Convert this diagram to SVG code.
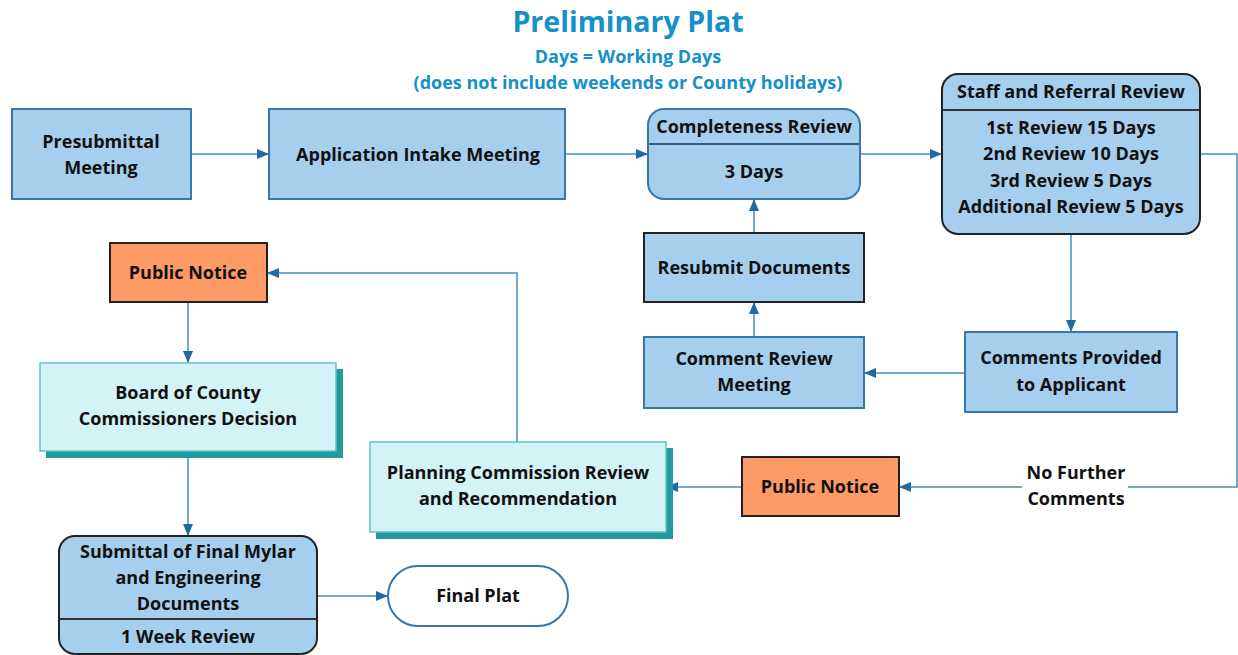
<svg xmlns="http://www.w3.org/2000/svg" width="1238" height="655" viewBox="0 0 1238 655">
<style>
text{font-family:"Open Sans",Lato,"Liberation Sans",sans-serif;font-weight:bold;fill:#111;text-anchor:middle}
.t{fill:#1590c8}
.blue{fill:#a6cfee;stroke:#3877a8;stroke-width:2}
.bluek{fill:#a6cfee;stroke:#222;stroke-width:2}
.orange{fill:#fd9a66;stroke:#222;stroke-width:2}
.cyan{fill:#d3f3f6;stroke:#62c3cc;stroke-width:1.5}
.shadow{fill:#22999c}
.div{stroke:#333;stroke-width:2}
.divb{stroke:#2d5f88;stroke-width:2}
.c{fill:none;stroke:#4a8dbf;stroke-width:1.5}
.n{font-size:18px}
</style>
<defs>
<marker id="ah" markerUnits="userSpaceOnUse" markerWidth="12" markerHeight="12" viewBox="0 0 12 12" refX="12" refY="6" orient="auto">
<path d="M0,1 L12,6 L0,11 Z" fill="#1f6aa0"/>
</marker>
</defs>
<text class="t" x="628" y="32" font-size="28.6">Preliminary Plat</text>
<text class="t" x="628" y="63" font-size="18">Days = Working Days</text>
<text class="t" x="628" y="89" font-size="18">(does not include weekends or County holidays)</text>

<g id="connectors">
<path class="c" d="M191,154 H269" marker-end="url(#ah)"/>
<path class="c" d="M565,154 H648" marker-end="url(#ah)"/>
<path class="c" d="M860,154 H942" marker-end="url(#ah)"/>
<path class="c" d="M1200,154 H1237 V487 H899" marker-end="url(#ah)"/>
<path class="c" d="M1071,234 V332" marker-end="url(#ah)"/>
<path class="c" d="M965,373 H864" marker-end="url(#ah)"/>
<path class="c" d="M754,337 V302" marker-end="url(#ah)"/>
<path class="c" d="M754,233 V199" marker-end="url(#ah)"/>
<path class="c" d="M742,487 H666" marker-end="url(#ah)"/>
<path class="c" d="M517,442 V273 H267" marker-end="url(#ah)"/>
<path class="c" d="M188,302 V363" marker-end="url(#ah)"/>
<path class="c" d="M188,451 V536" marker-end="url(#ah)"/>
<path class="c" d="M317,596 H388" marker-end="url(#ah)"/>
<rect x="1022" y="460" width="106" height="50" fill="#fff"/>
<text class="n" x="1076" y="479">No Further</text>
<text class="n" x="1076" y="505">Comments</text>
</g>

<g id="presubmittal">
<rect class="blue" x="12" y="109" width="179" height="90"/>
<text class="n" x="101" y="148">Presubmittal</text>
<text class="n" x="101" y="174">Meeting</text>
</g>
<g id="intake">
<rect class="blue" x="269" y="109" width="296" height="90"/>
<text class="n" x="418" y="161">Application Intake Meeting</text>
</g>
<g id="completeness">
<rect class="blue" x="648" y="109" width="212" height="90" rx="16"/>
<line class="divb" x1="649" y1="144" x2="859" y2="144"/>
<text class="n" x="754" y="133">Completeness Review</text>
<text class="n" x="754" y="178">3 Days</text>
</g>
<g id="staff">
<rect class="bluek" x="942" y="74" width="258" height="160" rx="16"/>
<line class="div" x1="943" y1="110" x2="1199" y2="110"/>
<text class="n" x="1071" y="98">Staff and Referral Review</text>
<text class="n" x="1071" y="134">1st Review 15 Days</text>
<text class="n" x="1071" y="160">2nd Review 10 Days</text>
<text class="n" x="1071" y="187">3rd Review 5 Days</text>
<text class="n" x="1071" y="213">Additional Review 5 Days</text>
</g>
<g id="resubmit">
<rect class="bluek" x="644" y="233" width="220" height="69"/>
<text class="n" x="754" y="274">Resubmit Documents</text>
</g>
<g id="comment-review">
<rect class="blue" x="644" y="337" width="220" height="71"/>
<text class="n" x="754" y="365">Comment Review</text>
<text class="n" x="754" y="391">Meeting</text>
</g>
<g id="comments-provided">
<rect class="blue" x="965" y="332" width="212" height="80"/>
<text class="n" x="1071" y="364">Comments Provided</text>
<text class="n" x="1071" y="391">to Applicant</text>
</g>
<g id="public-notice-1">
<rect class="orange" x="110" y="243" width="157" height="59"/>
<text class="n" x="188" y="279">Public Notice</text>
</g>
<g id="board">
<rect class="shadow" x="46" y="369" width="297" height="89"/>
<rect class="cyan" x="40" y="363" width="296" height="88"/>
<text class="n" x="188" y="399">Board of County</text>
<text class="n" x="188" y="425">Commissioners Decision</text>
</g>
<g id="planning">
<rect class="shadow" x="376" y="448" width="297" height="91"/>
<rect class="cyan" x="370" y="442" width="296" height="90"/>
<text class="n" x="518" y="479">Planning Commission Review</text>
<text class="n" x="518" y="505">and Recommendation</text>
</g>
<g id="public-notice-2">
<rect class="orange" x="742" y="457" width="157" height="59"/>
<text class="n" x="820" y="493">Public Notice</text>
</g>
<g id="submittal">
<rect class="bluek" x="59" y="536" width="258" height="118" rx="16"/>
<line class="div" x1="60" y1="619" x2="316" y2="619"/>
<text class="n" x="188" y="558">Submittal of Final Mylar</text>
<text class="n" x="188" y="584">and Engineering</text>
<text class="n" x="188" y="610">Documents</text>
<text class="n" x="188" y="643">1 Week Review</text>
</g>
<g id="final-plat">
<rect x="388" y="566" width="180" height="60" rx="30" fill="#fff" stroke="#3877a8" stroke-width="2"/>
<text class="n" x="478" y="602">Final Plat</text>
</g>
</svg>
